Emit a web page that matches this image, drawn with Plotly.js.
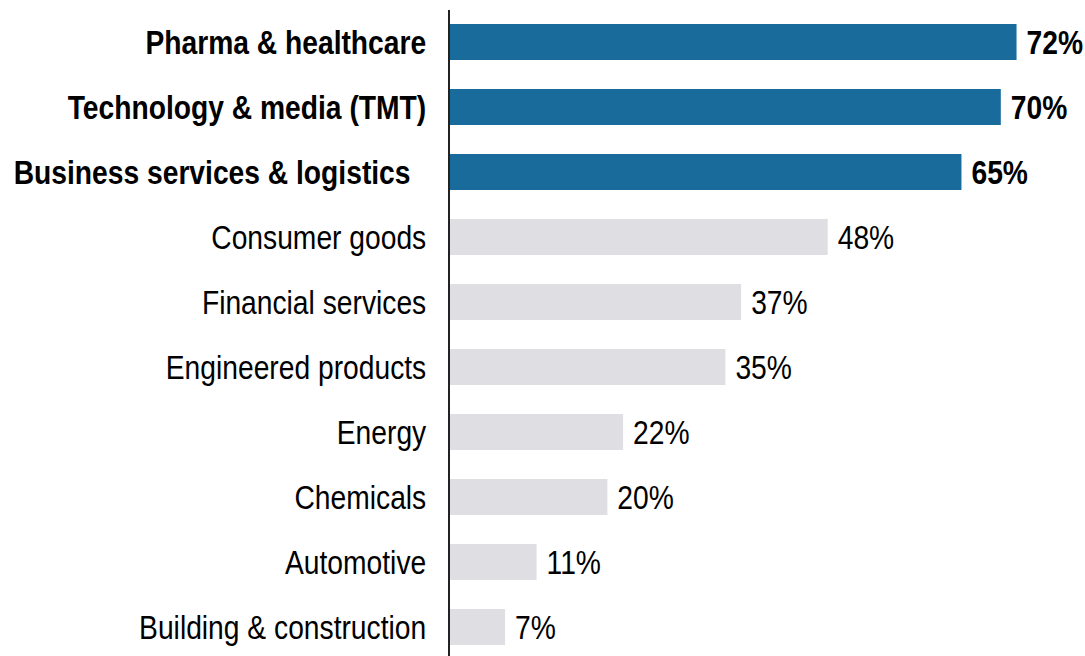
<!DOCTYPE html>
<html>
<head>
<meta charset="utf-8">
<script src="https://cdn.plot.ly/plotly-3.0.1.min.js"></script>
<style>
html,body{margin:0;padding:0;background:#fff;overflow:hidden;}
#chart{width:1085px;height:656px;}
</style>
</head>
<body>
<div id="chart"></div>
<script>
var categories = ["Pharma & healthcare","Technology & media (TMT)","Business services & logistics","Consumer goods","Financial services","Engineered products","Energy","Chemicals","Automotive","Building & construction"];
var tickLabels = ["<b>Pharma & healthcare</b>","<b>Technology & media (TMT)</b>","<b>Business services & logistics</b>\u00a0\u00a0","Consumer goods","Financial services","Engineered products","Energy","Chemicals","Automotive","Building & construction"];
var values = [72, 70, 65, 48, 37, 35, 22, 20, 11, 7];
var highlighted = [true, true, true, false, false, false, false, false, false, false];

var BLUE = "#186b9b", GRAY = "#dfdfe3";
var FONT = "'Liberation Sans',Arial,sans-serif";
var NARROW = 0.83; // horizontal condensing to mimic a narrow face
var LABEL_SHIFT = 7;

var trace = {
  type: "bar",
  orientation: "h",
  y: categories,
  x: values,
  marker: {color: highlighted.map(function(h){return h ? BLUE : GRAY;}), line: {width: 0}},
  text: values.map(function(v, i){ return highlighted[i] ? "<b>" + v + "%</b>" : v + "%"; }),
  textposition: "outside",
  constraintext: "none",
  cliponaxis: false,
  textfont: {family: FONT, size: 34, color: "#000"},
  hoverinfo: "none"
};

var layout = {
  width: 1085, height: 656,
  margin: {l: 450, r: 0, t: 10, b: 0, pad: 0},
  paper_bgcolor: "#fff", plot_bgcolor: "#fff",
  showlegend: false,
  bargap: 0.446,
  font: {family: FONT, size: 34, color: "#000"},
  xaxis: {range: [0, 80.7], showgrid: false, zeroline: false, showticklabels: false, showline: false, fixedrange: true},
  yaxis: {
    type: "category",
    range: [9.446, -0.492],
    tickmode: "array",
    tickvals: categories,
    ticktext: tickLabels,
    showgrid: false, zeroline: false,
    showline: true, linecolor: "#222", linewidth: 2,
    ticks: "", ticklabelstandoff: 15,
    tickfont: {family: FONT, size: 34, color: "#000"},
    fixedrange: true
  }
};

Plotly.newPlot("chart", [trace], layout, {staticPlot: true, displayModeBar: false}).then(function(gd){
  gd.querySelectorAll(".ytick text").forEach(function(t){
    var w = t.getComputedTextLength();
    t.setAttribute("textLength", (w * NARROW).toFixed(1));
    t.setAttribute("lengthAdjust", "spacingAndGlyphs");
  });
  gd.querySelectorAll("text.bartext").forEach(function(t){
    var w = t.getComputedTextLength();
    var anchor = t.getAttribute("text-anchor") || window.getComputedStyle(t).textAnchor || "start";
    var shrink = w * (1 - NARROW);
    var adj = anchor === "middle" ? -shrink / 2 : (anchor === "end" ? -shrink : 0);
    t.setAttribute("textLength", (w * NARROW).toFixed(1));
    t.setAttribute("lengthAdjust", "spacingAndGlyphs");
    var x = parseFloat(t.getAttribute("x") || "0");
    t.setAttribute("x", x + LABEL_SHIFT + adj);
  });
});
</script>
</body>
</html>
